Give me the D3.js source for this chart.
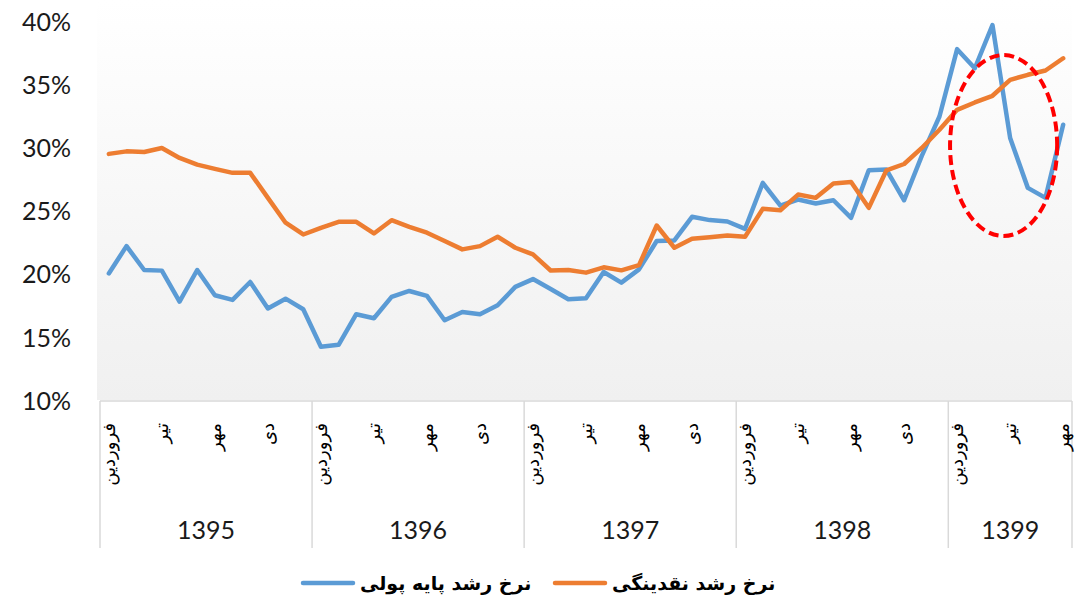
<!DOCTYPE html>
<html lang="fa">
  <head>
    <meta charset="utf-8"/>
    <title>نرخ رشد پایه پولی و نقدینگی</title>
    <style>
      body { margin: 0; background: #fff; }
      svg text.num { font-family: Lato, "Open Sans", sans-serif; fill: #1a1a1a; }
      svg text.fa { font-family: "DejaVu Sans", sans-serif; }
    </style>
  </head>
  <body>
    <svg id="chart"></svg>

    <script src="https://cdn.jsdelivr.net/npm/d3@7"></script>
    <script>
      // data (percent)
      const years = ["1395", "1396", "1397", "1398", "1399"];
      const monthsPerYear = [12, 12, 12, 12, 7];
      const monthTicks = ["فروردین", "", "", "تیر", "", "", "مهر", "", "", "دی", "", ""];
      const yTicks = [10, 15, 20, 25, 30, 35, 40];

      const baseMoney = [
        20.1, 22.26, 20.37, 20.32, 17.87, 20.37, 18.37, 18.0, 19.42, 17.32, 18.1, 17.26,
        14.3, 14.45, 16.87, 16.55, 18.24, 18.71, 18.32, 16.39, 17.05, 16.87, 17.58, 19.03,
        19.65, 18.87, 18.05, 18.13, 20.21, 19.37, 20.42, 22.66, 22.71, 24.58, 24.32, 24.21,
        23.63, 27.26, 25.47, 25.95, 25.63, 25.89, 24.5, 28.26, 28.32, 25.89, 29.4, 32.52,
        37.85, 36.34, 39.76, 30.82, 26.87, 26.08, 31.87
      ];
      const liquidity = [
        29.56, 29.76, 29.71, 30.03, 29.24, 28.71, 28.37, 28.06, 28.06, 26.08, 24.11, 23.18,
        23.71, 24.18, 24.18, 23.26, 24.31, 23.79, 23.32, 22.66, 22.0, 22.26, 23.0, 22.13,
        21.6, 20.33, 20.37, 20.16, 20.58, 20.34, 20.76, 23.89, 22.13, 22.84, 22.97, 23.1,
        23.0, 25.21, 25.1, 26.34, 26.08, 27.21, 27.34, 25.29, 28.26, 28.76, 30.03, 31.47,
        33.05, 33.63, 34.16, 35.42, 35.82, 36.16, 37.13
      ];
      const seriesNames = ["نرخ رشد پایه پولی", "نرخ رشد نقدینگی"];
      const seriesColors = ["#5b9bd5", "#ed7d31"];

      // dashed ellipse around the last months (index / percent units)
      const mark = { cx: 50.63, cy: 30.22, rx: 3.03, ry: 7.16 };

      const width = 1081, height = 601;
      const plotLeft = 100, plotRight = 1072, plotTop = 22, plotBottom = 401;

      const svg = d3.select("#chart").attr("width", width).attr("height", height);

      // one entry per month
      let months = [];
      years.forEach(function(yr, yi) {
        for (let m = 0; m < monthsPerYear[yi]; m++) {
          months.push({ year: yr, m: m, i: months.length });
        }
      });

      const x = d3.scaleBand().domain(months.map(d => d.i)).range([plotLeft, plotRight]);
      const cx = i => x(i) + x.bandwidth() / 2;
      const y = d3.scaleLinear().domain([10, 40]).range([plotBottom, plotTop]);

      // plot background
      const grad = svg.append("defs").append("linearGradient")
        .attr("id", "bg").attr("x1", 0).attr("y1", 0).attr("x2", 0).attr("y2", 1);
      grad.append("stop").attr("offset", "0%").attr("stop-color", "#ffffff");
      grad.append("stop").attr("offset", "100%").attr("stop-color", "#f0f0f0");
      svg.append("rect")
        .attr("x", plotLeft - 3).attr("y", 0)
        .attr("width", plotRight - plotLeft + 3).attr("height", plotBottom - 1)
        .attr("fill", "url(#bg)");

      // y labels
      svg.append("g").selectAll("text")
        .data(yTicks)
        .enter().append("text")
          .attr("class", "num")
          .attr("x", 71)
          .attr("y", d => y(d))
          .attr("dy", "0.35em")
          .attr("text-anchor", "end")
          .style("font-size", "25px")
          .text(d => d + "%");

      // x axis line + year separators
      svg.append("line")
        .attr("x1", plotLeft).attr("x2", plotRight).attr("y1", plotBottom).attr("y2", plotBottom)
        .attr("stroke", "#d9d9d9").attr("stroke-width", 1.5);

      const yearStarts = months.filter(d => d.m === 0).map(d => x(d.i));
      yearStarts.push(plotRight);
      svg.append("g").selectAll("line")
        .data(yearStarts)
        .enter().append("line")
          .attr("x1", d => d).attr("x2", d => d)
          .attr("y1", plotBottom).attr("y2", 548)
          .attr("stroke", "#d9d9d9").attr("stroke-width", 1.5);

      // month labels (rotated)
      svg.append("g").selectAll("text")
        .data(months.filter(d => monthTicks[d.m] !== ""))
        .enter().append("text")
          .attr("class", "fa")
          .attr("transform", d => "translate(" + cx(d.i) + ",423) rotate(-90)")
          .attr("dy", "0.35em")
          .attr("text-anchor", "end")
          .style("font-size", "18px")
          .attr("fill", "#000")
          .text(d => monthTicks[d.m]);

      // year labels
      svg.append("g").selectAll("text")
        .data(years)
        .enter().append("text")
          .attr("class", "num")
          .attr("x", function(d, i) { return (yearStarts[i] + yearStarts[i + 1]) / 2; })
          .attr("y", 530)
          .attr("dy", "0.35em")
          .attr("text-anchor", "middle")
          .style("font-size", "25px")
          .text(d => d);

      // lines
      const line = d3.line().x((d, i) => cx(i)).y(d => y(d));
      [baseMoney, liquidity].forEach(function(s, k) {
        svg.append("path")
          .datum(s)
          .attr("d", line)
          .attr("fill", "none")
          .attr("stroke", seriesColors[k])
          .attr("stroke-width", 4.5)
          .attr("stroke-linejoin", "round")
          .attr("stroke-linecap", "round");
      });

      // annotation ellipse
      const step = x.step();
      svg.append("ellipse")
        .attr("cx", cx(0) + mark.cx * step)
        .attr("cy", y(mark.cy))
        .attr("rx", mark.rx * step)
        .attr("ry", y(0) - y(mark.ry))
        .attr("fill", "none")
        .attr("stroke", "#ff0000")
        .attr("stroke-width", 4)
        .attr("stroke-dasharray", "10,5");

      // legend
      const legendX = [303, 555];
      const lg = svg.append("g");
      seriesNames.forEach(function(name, k) {
        lg.append("line")
          .attr("x1", legendX[k]).attr("x2", legendX[k] + 50)
          .attr("y1", 583).attr("y2", 583)
          .attr("stroke", seriesColors[k]).attr("stroke-width", 4.5)
          .attr("stroke-linecap", "round");
        lg.append("text")
          .attr("class", "fa")
          .attr("x", legendX[k] + 57)
          .attr("y", 583)
          .attr("dy", "0.35em")
          .style("font-size", "19px")
          .style("font-weight", "bold")
          .attr("fill", "#000")
          .text(name);
      });
    </script>
  </body>
</html>
